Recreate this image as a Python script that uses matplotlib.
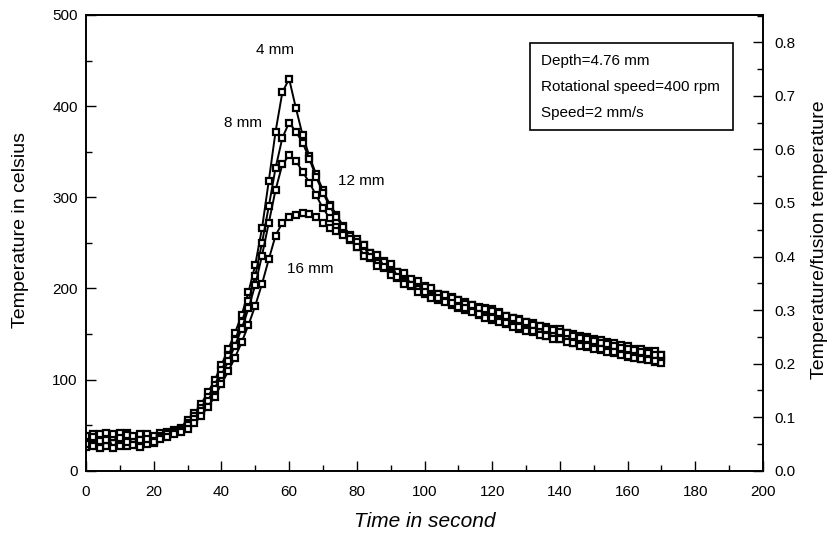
"""
Temperature history at four distances from the weld line (4/8/12/16 mm),
with a twin axis for temperature / fusion temperature.
"""
import numpy as np
import matplotlib
matplotlib.use("Agg")
import matplotlib.pyplot as plt
from matplotlib.ticker import MultipleLocator, FormatStrFormatter
from matplotlib.patches import Rectangle

plt.rcParams["font.family"] = ["Liberation Sans", "DejaVu Sans"]

# time in second, sampled every 2 s
t = np.arange(0, 171, 2)

temp_4mm = [
    28, 40, 26, 38, 30, 41, 27, 37, 40, 29, 38,
    41, 38, 45, 47,
    56, 63, 73, 86, 99, 116, 133, 151, 171, 196, 226, 266, 318, 372, 415,
    430, 398, 368, 345, 325, 308, 292, 281, 268, 259,
    254, 240, 239, 228, 230, 217, 218, 206, 209, 199,
    203, 191, 194, 186, 191, 179, 185, 175, 180, 169, 177, 164, 170, 160, 166, 156, 162, 152, 158, 148,
    155, 144, 150, 140, 147, 135, 143, 133, 140, 129, 137, 127, 134, 123, 131, 121,
]
temp_8mm = [
    26, 36, 40, 27, 37, 29, 41, 31, 27, 39, 33,
    38, 42, 41, 46,
    52, 60, 69, 81, 94, 110, 126, 143, 163, 186, 214, 250, 290, 332, 365,
    382, 372, 360, 342, 322, 305, 290, 278, 267, 257,
    245, 248, 233, 236, 222, 225, 211, 215, 203, 206,
    194, 198, 187, 193, 182, 187, 176, 182, 171, 179, 165, 174, 161, 168, 156, 163, 152, 159, 148, 155,
    144, 151, 140, 148, 136, 144, 132, 141, 129, 138, 125, 134, 122, 131, 119, 127,
]
temp_12mm = [
    38, 27, 33, 41, 25, 36, 39, 28, 34, 40, 30,
    36, 40, 43, 44,
    50, 57, 66, 77, 90, 105, 120, 137, 156, 178, 204, 236, 272, 308, 336,
    346, 340, 328, 316, 302, 288, 277, 267, 260, 253,
    251, 236, 239, 225, 229, 215, 218, 205, 210, 196,
    201, 190, 194, 185, 189, 180, 183, 174, 178, 168, 175, 163, 170, 158, 165, 153, 160, 149, 155, 145,
    152, 141, 148, 137, 144, 134, 140, 130, 137, 127, 133, 124, 130, 121, 127, 118,
]
temp_16mm = [
    29, 37, 25, 34, 40, 27, 31, 38, 26, 35, 32,
    35, 37, 40, 42,
    46, 52, 60, 70, 81, 95, 109, 124, 141, 160, 181, 205, 232, 258, 272,
    278, 281, 283, 282, 278, 272, 266, 263, 259, 254,
    245, 248, 234, 237, 224, 227, 213, 217, 204, 208,
    196, 200, 189, 193, 184, 187, 178, 182, 172, 177, 168, 173, 162, 168, 158, 163, 153, 159, 148, 154,
    144, 151, 140, 146, 137, 142, 133, 139, 130, 135, 126, 132, 123, 129, 120, 127,
]

series = [temp_4mm, temp_8mm, temp_12mm, temp_16mm]
labels = ["4 mm", "8 mm", "12 mm", "16 mm"]
label_pos = [(55.8, 462), (46.4, 382), (81.2, 318), (66.2, 221)]
info_lines = ["Depth=4.76 mm", "Rotational speed=400 rpm", "Speed=2 mm/s"]
fusion_temp = 587.5

fig = plt.figure(figsize=(8.3, 5.33), dpi=100)
ax = fig.add_axes([0.1036, 0.1169, 0.8157, 0.855])

for vals in series:
    ax.plot(t, vals, color="black", lw=1.4, marker="s", ms=4, mfc="white",
            mec="black", mew=1.6)

for lab, (lx, ly) in zip(labels, label_pos):
    ax.text(lx, ly, lab, ha="center", va="center", fontsize=11)

ax.set_xlim(0, 200)
ax.set_ylim(0, 500)
ax.xaxis.set_major_locator(MultipleLocator(20))
ax.xaxis.set_minor_locator(MultipleLocator(10))
ax.yaxis.set_major_locator(MultipleLocator(100))
ax.yaxis.set_minor_locator(MultipleLocator(50))
ax.tick_params(which="both", direction="in", labelsize=11, width=1.0)
ax.tick_params(which="major", length=7)
ax.tick_params(which="minor", length=4)
ax.tick_params(axis="x", pad=10)
ax.tick_params(axis="y", pad=6)
for sp in ax.spines.values():
    sp.set_linewidth(1.2)

ax.set_xlabel("Time in second", fontsize=15, style="italic")
ax.xaxis.set_label_coords(0.5, -0.09)
ax.set_ylabel("Temperature in celsius", fontsize=14)
ax.yaxis.set_label_coords(-0.084, 0.528)

ax2 = ax.twinx()
ax2.set_ylim(0, 500 / fusion_temp)
ax2.yaxis.set_major_locator(MultipleLocator(0.1))
ax2.yaxis.set_minor_locator(MultipleLocator(0.05))
ax2.yaxis.set_major_formatter(FormatStrFormatter("%.1f"))
ax2.tick_params(which="both", direction="in", labelsize=11, width=1.0, pad=8)
ax2.tick_params(which="major", length=7)
ax2.tick_params(which="minor", length=4)
ax2.set_ylabel("Temperature/fusion temperature", fontsize=14, rotation=90)
ax2.yaxis.set_label_coords(1.071, 0.508)
for sp in ax2.spines.values():
    sp.set_linewidth(1.2)

# parameter box
ax.add_patch(Rectangle((0.656, 0.7476), 0.30, 0.191, transform=ax.transAxes,
                       fill=False, lw=1.2, ec="black"))
for i, line in enumerate(info_lines):
    ax.text(0.672, 0.9 - i * 0.058, line, transform=ax.transAxes,
            ha="left", va="center", fontsize=11)

fig.savefig("out.png", dpi=100)
